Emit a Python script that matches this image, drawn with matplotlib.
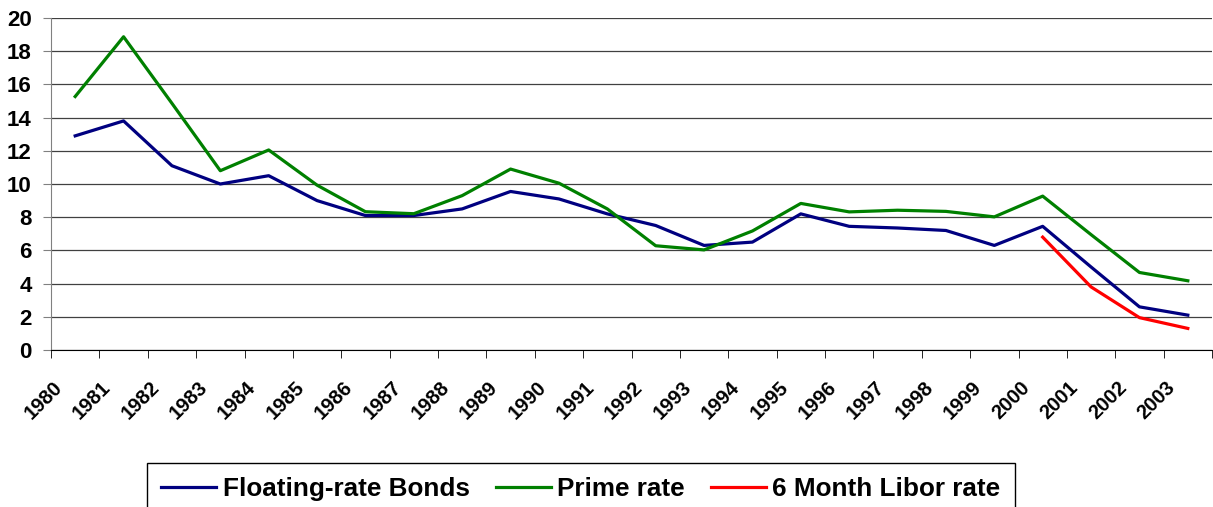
import matplotlib
matplotlib.use('Agg')
import matplotlib.pyplot as plt
import numpy as np
from matplotlib.transforms import ScaledTranslation

years = [str(y) for y in range(1980, 2004)]
floating = [12.9, 13.8, 11.1, 10.0, 10.5, 9.0, 8.1, 8.1, 8.5, 9.55, 9.1, 8.2,
            7.5, 6.3, 6.5, 8.2, 7.45, 7.35, 7.2, 6.3, 7.45, 5.0, 2.6, 2.1]
prime = [15.27, 18.87, 14.86, 10.8, 12.05, 9.93, 8.33, 8.21, 9.3, 10.9, 10.05, 8.5,
         6.28, 6.03, 7.17, 8.83, 8.32, 8.42, 8.35, 8.02, 9.27, 6.95, 4.67, 4.17]
libor = [np.nan] * 20 + [6.8, 3.8, 1.95, 1.3]

FONT = 'Liberation Sans'

fig = plt.figure(figsize=(12.13, 5.07), dpi=100)
ax = fig.add_axes([51/1213, 1-350/507, (1212-51)/1213, (350-18)/507])

x = np.arange(len(years))
ax.plot(x, floating, color='#000080', lw=2.3, label='Floating-rate Bonds')
ax.plot(x, prime, color='#008000', lw=2.3, label='Prime rate')
ax.plot(x, libor, color='#FF0000', lw=2.3, label='6 Month Libor rate')

ax.set_xlim(-0.5, len(years) - 0.5)
ax.set_ylim(0, 20)
ax.set_yticks(range(0, 21, 2))
ax.yaxis.grid(True, color='#404040', lw=0.9)
ax.set_axisbelow(True)

for s in ['top', 'right']:
    ax.spines[s].set_visible(False)
ax.spines['left'].set_color('#808080')
ax.spines['bottom'].set_color('black')

ax.set_xticks(x)
ax.set_xticklabels(years, rotation=45, ha='right', va='top',
                   fontsize=14.5, fontweight='bold', family=FONT)
ax.tick_params(axis='x', which='major', length=0, pad=20)
ax.set_xticks(np.arange(-0.5, len(years), 1), minor=True)
ax.tick_params(axis='x', which='minor', length=6, color='black', direction='out')
ax.tick_params(axis='y', length=6, color='#808080', pad=8)
for lab in ax.get_yticklabels():
    lab.set_fontsize(16)
    lab.set_fontweight('bold')
    lab.set_family(FONT)

off = ScaledTranslation(-9/100, 0, fig.dpi_scale_trans)
for lab in ax.get_xticklabels():
    lab.set_transform(lab.get_transform() + off)

leg = fig.legend(loc='upper left', bbox_to_anchor=(147/1213, 1-463/507), ncol=3,
                 frameon=True, fancybox=False, edgecolor='black', framealpha=1,
                 prop=dict(family=FONT, weight='bold', size=18.8),
                 handlelength=2.1, handletextpad=0.25, columnspacing=1.0,
                 borderpad=0.55, borderaxespad=0)
leg.get_frame().set_linewidth(1.0)

fig.savefig('out.png', dpi=100)
